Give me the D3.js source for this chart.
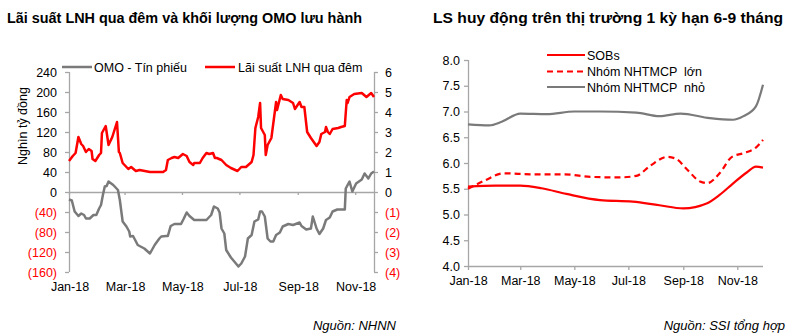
<!DOCTYPE html>
<html><head><meta charset="utf-8">
<script src="https://cdn.jsdelivr.net/npm/d3@7"></script>
<style>
html,body{margin:0;padding:0;background:#fff;}
svg{display:block;font-family:"Liberation Sans",Arial,sans-serif;}
</style></head>
<body><svg id="c" width="800" height="336"></svg>
<script>
// ---------- Left chart data ----------
const leftTitle = "Lãi suất LNH qua đêm và khối lượng OMO lưu hành";
const leftTicksL = [240,200,160,120,80,40,0,-40,-80,-120,-160];
const leftTicksR = [6,5,4,3,2,1,0,-1,-2,-3,-4];
const xTickMonths = ["2018-01-01","2018-03-01","2018-05-01","2018-07-01","2018-09-01","2018-11-01"];
const omoSeries = [
["2018-01-01",-15],["2018-01-04",-17],["2018-01-07",-39],["2018-01-11",-48],["2018-01-14",-43],["2018-01-17",-46],
["2018-01-19",-53],["2018-01-23",-53],["2018-01-27",-46],["2018-01-30",-46],["2018-02-02",-33],["2018-02-04",-26],
["2018-02-06",-6],["2018-02-08",11],["2018-02-10",12],["2018-02-12",21],["2018-02-17",14],["2018-02-22",4],
["2018-02-24",-16],["2018-02-27",-59],["2018-03-03",-69],["2018-03-06",-79],["2018-03-07",-89],["2018-03-10",-88],
["2018-03-12",-95],["2018-03-15",-106],["2018-03-22",-113],["2018-03-28",-123],["2018-04-02",-106],["2018-04-07",-93],
["2018-04-09",-89],["2018-04-14",-88],["2018-04-16",-88],["2018-04-19",-68],["2018-04-23",-64],["2018-04-30",-64],
["2018-05-03",-53],["2018-05-06",-41],["2018-05-09",-48],["2018-05-14",-56],["2018-05-27",-56],["2018-06-01",-46],
["2018-06-04",-29],["2018-06-08",-33],["2018-06-10",-41],["2018-06-12",-73],["2018-06-15",-83],["2018-06-17",-116],
["2018-06-22",-131],["2018-06-30",-149],["2018-07-03",-143],["2018-07-07",-129],["2018-07-10",-93],["2018-07-14",-86],
["2018-07-17",-59],["2018-07-21",-55],["2018-07-23",-39],["2018-07-25",-39],["2018-07-28",-49],["2018-07-31",-93],
["2018-08-03",-99],["2018-08-06",-99],["2018-08-09",-86],["2018-08-13",-81],["2018-08-16",-69],["2018-08-22",-64],
["2018-08-27",-66],["2018-09-03",-61],["2018-09-05",-68],["2018-09-10",-75],["2018-09-15",-73],["2018-09-17",-49],
["2018-09-21",-73],["2018-09-24",-84],["2018-09-28",-73],["2018-10-01",-56],["2018-10-05",-51],["2018-10-08",-39],
["2018-10-13",-35],["2018-10-21",-35],["2018-10-22",7],["2018-10-24",14],["2018-10-26",21],["2018-10-29",1],
["2018-11-02",17],["2018-11-08",25],["2018-11-11",37],["2018-11-15",27],["2018-11-18",37],["2018-11-21",41]];
const lnhSeries = [
["2018-01-01",1.55],["2018-01-05",1.8],["2018-01-08",1.95],["2018-01-11",2.75],["2018-01-14",2.4],["2018-01-16",2.3],
["2018-01-19",2.0],["2018-01-22",2.15],["2018-01-25",2.05],["2018-01-26",1.65],["2018-01-29",1.55],["2018-02-02",1.85],
["2018-02-04",1.95],["2018-02-05",2.95],["2018-02-09",3.3],["2018-02-12",2.35],["2018-02-16",2.75],["2018-02-21",3.5],
["2018-02-23",2.0],["2018-02-24",1.95],["2018-02-27",1.45],["2018-03-05",1.15],["2018-03-08",1.25],["2018-03-13",1.05],
["2018-03-17",1.1],["2018-03-28",1.0],["2018-04-11",1.0],["2018-04-14",1.1],["2018-04-16",1.6],["2018-04-20",1.7],
["2018-04-23",1.75],["2018-04-27",1.7],["2018-05-02",1.9],["2018-05-06",1.8],["2018-05-09",1.5],["2018-05-13",1.35],
["2018-05-14",1.45],["2018-05-20",1.45],["2018-05-23",1.7],["2018-05-27",1.95],["2018-05-30",1.9],["2018-06-03",1.95],
["2018-06-05",1.7],["2018-06-07",1.7],["2018-06-12",1.6],["2018-06-17",1.35],["2018-06-22",1.2],["2018-06-29",1.05],
["2018-07-03",1.25],["2018-07-08",1.25],["2018-07-14",1.5],["2018-07-16",1.85],["2018-07-18",3.2],["2018-07-21",3.75],
["2018-07-23",4.45],["2018-07-24",3.2],["2018-07-28",2.85],["2018-07-29",1.85],["2018-07-31",2.35],["2018-08-04",2.7],
["2018-08-09",4.5],["2018-08-10",4.1],["2018-08-14",4.85],["2018-08-16",4.65],["2018-08-22",4.6],["2018-08-27",4.45],
["2018-08-29",4.15],["2018-09-03",4.5],["2018-09-05",4.25],["2018-09-08",4.25],["2018-09-11",3.0],["2018-09-15",2.7],
["2018-09-21",2.3],["2018-09-24",2.5],["2018-09-26",2.9],["2018-09-30",3.0],["2018-10-01",3.25],["2018-10-03",3.0],
["2018-10-05",2.9],["2018-10-08",3.15],["2018-10-14",3.2],["2018-10-17",3.25],["2018-10-21",3.3],["2018-10-23",4.6],
["2018-10-24",4.45],["2018-10-26",4.75],["2018-10-31",4.9],["2018-11-08",4.95],["2018-11-13",4.75],["2018-11-18",4.95],
["2018-11-21",4.75]];

// ---------- Right chart data ----------
const rightTitle = "LS huy động trên thị trường 1 kỳ hạn 6-9 tháng";
const rightTicksY = [8.0,7.5,7.0,6.5,6.0,5.5,5.0,4.5,4.0];
const seriesNames = ["SOBs","Nhóm NHTMCP  lớn","Nhóm NHTMCP  nhỏ"];
const sobs = [["2018-01-01",5.54],["2018-02-01",5.56],["2018-03-01",5.56],["2018-03-25",5.51],["2018-04-22",5.4],
["2018-05-30",5.28],["2018-07-06",5.25],["2018-08-05",5.18],["2018-09-01",5.12],["2018-09-28",5.22],["2018-10-12",5.38],
["2018-10-27",5.6],["2018-11-12",5.82],["2018-11-22",5.93],["2018-11-30",5.91]];
const lon = [["2018-01-01",5.5],["2018-01-20",5.66],["2018-02-10",5.8],["2018-03-15",5.78],["2018-04-20",5.78],
["2018-05-20",5.73],["2018-06-20",5.72],["2018-07-10",5.75],["2018-07-26",5.95],["2018-08-14",6.12],["2018-08-24",6.08],
["2018-09-05",5.88],["2018-09-20",5.64],["2018-09-28",5.61],["2018-10-12",5.8],["2018-10-26",6.12],["2018-11-10",6.2],
["2018-11-22",6.3],["2018-11-30",6.45]];
const nho = [["2018-01-01",6.75],["2018-01-25",6.73],["2018-02-08",6.8],["2018-03-01",6.96],["2018-03-31",6.95],
["2018-05-01",7.0],["2018-05-30",7.0],["2018-07-10",6.98],["2018-08-05",6.91],["2018-08-29",6.96],["2018-10-01",6.87],
["2018-10-27",6.84],["2018-11-08",6.91],["2018-11-22",7.1],["2018-11-30",7.52]];

const RED = "#ff0000", GRAY = "#7a7a7a", AXIS = "#a6a6a6";
const parse = d3.timeParse("%Y-%m-%d");
const fmtM = d3.timeFormat("%b-%y");
const svg = d3.select("#c");

// ===== Left chart =====
const xL = d3.scaleTime().domain([parse("2018-01-01"), parse("2018-11-21")]).range([69, 374]);
const yL = d3.scaleLinear().domain([-160, 240]).range([272, 72]);
const yR = d3.scaleLinear().domain([-4, 6]).range([272, 72]);

svg.append("text").attr("x", 7).attr("y", 23).attr("font-size", 14.5).attr("font-weight", "bold").attr("fill", "#000")
  .attr("textLength", 355).attr("lengthAdjust", "spacingAndGlyphs").text(leftTitle);

const gl = svg.append("g");
const axL = d3.axisLeft(yL).tickValues(leftTicksL).tickSize(4).tickFormat(d => d < 0 ? "(" + (-d) + ")" : d);
const gAxL = gl.append("g").attr("transform", "translate(69,0)").call(axL);
const axR = d3.axisRight(yR).tickValues(leftTicksR).tickSize(4).tickFormat(d => d < 0 ? "(" + (-d) + ")" : d);
const gAxR = gl.append("g").attr("transform", "translate(374,0)").call(axR);
const axX = d3.axisBottom(xL).tickValues(xTickMonths.map(parse)).tickSize(3).tickFormat(() => "");
const gAxX = gl.append("g").attr("transform", "translate(0," + yL(0) + ")").call(axX);
[gAxL, gAxR, gAxX].forEach(g => {
  g.select(".domain").attr("stroke", AXIS).attr("stroke-width", 1.3);
  g.selectAll(".tick line").attr("stroke", AXIS).attr("stroke-width", 1.3);
  g.selectAll("text").attr("font-size", 12.5).attr("font-family", "Liberation Sans, Arial, sans-serif");
});
gAxL.select(".domain").attr("d", "M0.5,72V272");
gAxR.select(".domain").attr("d", "M0.5,72V272");
gAxX.select(".domain").attr("d", "M69,0.5H374");
gAxL.selectAll(".tick text").attr("fill", d => d < 0 ? RED : "#000").attr("x", -12);
gAxR.selectAll(".tick text").attr("fill", d => d < 0 ? RED : "#000").attr("x", 11);
gl.selectAll(".xlabL").data(xTickMonths).enter().append("text")
  .attr("x", d => xL(parse(d)) + 1).attr("y", 291).attr("text-anchor", "middle")
  .attr("font-size", 12.5).attr("fill", "#000").text(d => fmtM(parse(d)));
svg.append("text").attr("transform", "translate(27,126) rotate(-90)").attr("text-anchor", "middle")
  .attr("font-size", 12.5).attr("fill", "#000").text("Nghìn tỷ đồng");

const lineOmo = d3.line().x(d => xL(parse(d[0]))).y(d => yL(d[1]));
const lineLnh = d3.line().x(d => xL(parse(d[0]))).y(d => yR(d[1]));
gl.append("path").attr("d", lineOmo(omoSeries)).attr("fill", "none").attr("stroke", GRAY).attr("stroke-width", 2.5).attr("stroke-linejoin", "round");
gl.append("path").attr("d", lineLnh(lnhSeries)).attr("fill", "none").attr("stroke", RED).attr("stroke-width", 2.5).attr("stroke-linejoin", "round");

svg.append("line").attr("x1", 62).attr("x2", 92).attr("y1", 67).attr("y2", 67).attr("stroke", GRAY).attr("stroke-width", 2.5);
svg.append("text").attr("x", 94).attr("y", 71.5).attr("font-size", 12.5).text("OMO - Tín phiếu");
svg.append("line").attr("x1", 205).attr("x2", 235).attr("y1", 67).attr("y2", 67).attr("stroke", RED).attr("stroke-width", 2.5);
svg.append("text").attr("x", 238).attr("y", 71.5).attr("font-size", 12.5).text("Lãi suất LNH qua đêm");

svg.append("text").attr("x", 396).attr("y", 330).attr("text-anchor", "end").attr("font-size", 13).attr("font-style", "italic").text("Nguồn: NHNN");

// ===== Right chart =====
const xR = d3.scaleTime().domain([parse("2018-01-01"), parse("2018-11-30")]).range([468, 763]);
const yRR = d3.scaleLinear().domain([4, 8]).range([266, 60]);

svg.append("text").attr("x", 433).attr("y", 23).attr("font-size", 15.2).attr("font-weight", "bold").attr("fill", "#000")
  .attr("textLength", 350).attr("lengthAdjust", "spacingAndGlyphs").text(rightTitle);

const gr = svg.append("g");
const axRY = d3.axisLeft(yRR).tickValues(rightTicksY).tickSize(4).tickFormat(d3.format(".1f"));
const gRY = gr.append("g").attr("transform", "translate(468,0)").call(axRY);
const axRX = d3.axisBottom(xR).tickValues(xTickMonths.map(parse)).tickSize(4).tickFormat(fmtM);
const gRX = gr.append("g").attr("transform", "translate(0,266)").call(axRX);
[gRY, gRX].forEach(g => {
  g.select(".domain").attr("stroke", AXIS).attr("stroke-width", 1.3);
  g.selectAll(".tick line").attr("stroke", AXIS).attr("stroke-width", 1.3);
  g.selectAll("text").attr("font-size", 12.5).attr("fill", "#000").attr("font-family", "Liberation Sans, Arial, sans-serif");
});
gRY.select(".domain").attr("d", "M0.5,60V266");
gRX.select(".domain").attr("d", "M468,0.5H763");
gRY.selectAll(".tick text").attr("x", -8);
gRX.selectAll(".tick text").attr("y", 10);

const lineRt = d3.line().curve(d3.curveMonotoneX).x(d => xR(parse(d[0]))).y(d => yRR(d[1]));
gr.append("path").attr("d", lineRt(nho)).attr("fill", "none").attr("stroke", GRAY).attr("stroke-width", 2.2);
gr.append("path").attr("d", lineRt(lon)).attr("fill", "none").attr("stroke", RED).attr("stroke-width", 2.2).attr("stroke-dasharray", "6,4");
gr.append("path").attr("d", lineRt(sobs)).attr("fill", "none").attr("stroke", RED).attr("stroke-width", 2.2);

const legY = [55, 71.5, 87];
const legStyle = [{c: RED, d: null}, {c: RED, d: "6,4"}, {c: GRAY, d: null}];
seriesNames.forEach((n, i) => {
  const l = svg.append("line").attr("x1", 547).attr("x2", 585).attr("y1", legY[i]).attr("y2", legY[i])
    .attr("stroke", legStyle[i].c).attr("stroke-width", 2.2);
  if (legStyle[i].d) l.attr("stroke-dasharray", legStyle[i].d);
  svg.append("text").attr("x", 587).attr("y", legY[i] + 4.5).attr("font-size", 12.5)
    .style("white-space", "pre").text(n);
});

svg.append("text").attr("x", 785).attr("y", 330).attr("text-anchor", "end").attr("font-size", 13).attr("font-style", "italic").text("Nguồn: SSI tổng hợp");
</script>
</body></html>
